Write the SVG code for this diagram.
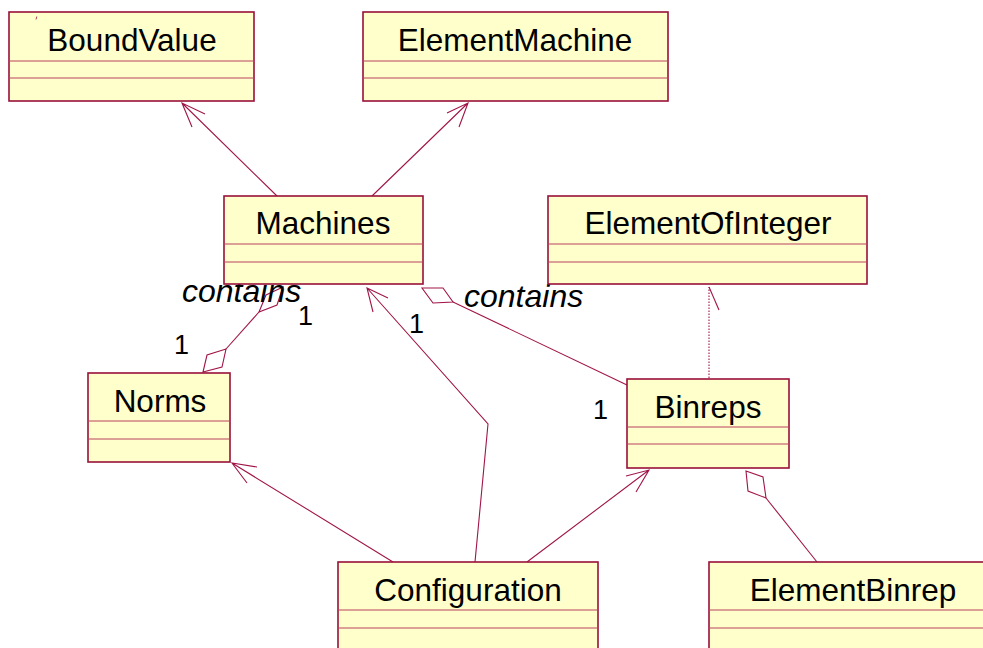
<svg xmlns="http://www.w3.org/2000/svg" width="983" height="648" viewBox="0 0 983 648">
  <style>
    .box { fill: #FFFFCC; stroke: #99103A; stroke-width: 1.6; }
    .sep { stroke: #B8405E; stroke-width: 1; fill: none; }
    .name { font-family: "Liberation Sans", Arial, sans-serif; font-size: 31.5px; fill: #000; text-anchor: middle; }
    .edge { stroke: #A01548; stroke-width: 1.1; fill: none; }
    .dia { stroke: #A01548; stroke-width: 1.1; fill: #FFFFFF; }
    .role { font-family: "Liberation Sans", Arial, sans-serif; font-size: 32px; font-style: italic; fill: #000; }
    .mult { font-family: "Liberation Sans", Arial, sans-serif; font-size: 27px; fill: #000; }
  </style>

  <rect width="983" height="648" fill="#FFFFFF"/>

  <!-- connectors -->
  <g id="connectors">
    <!-- Machines to BoundValue -->
    <path class="edge" d="M277,196 L182,103 M205,114 L182,103 L192,127"/>
    <!-- Machines to ElementMachine -->
    <path class="edge" d="M372,196 L468,103 M447,113 L468,103 L459,127"/>
    <!-- Norms / Machines aggregation -->
    <path class="edge" d="M226,349 L259,312"/>
    <polygon class="dia" points="203,372 207,355 226,349 222,367"/>
    <polygon class="dia" points="259,312 266,295 283,287 277,305"/>
    <!-- Machines / Binreps aggregation -->
    <path class="edge" d="M453,302 L627,385"/>
    <polygon class="dia" points="422,288 443,288 453,302 433,303"/>
    <!-- Configuration to Machines -->
    <path class="edge" d="M475,562 L488,424 L367,288 M388,298 L367,288 L373,312"/>
    <!-- Configuration to Norms -->
    <path class="edge" d="M393,562 L232,463 M257,467 L232,463 L247,483"/>
    <!-- Configuration to Binreps -->
    <path class="edge" d="M527,562 L649,470 M626,476 L649,470 L636,492"/>
    <!-- Binreps to ElementOfInteger (dependency) -->
    <path class="edge" d="M709,378 L709,287" stroke-dasharray="1.5,1.5"/>
    <path class="edge" d="M709,287 L719,310"/>
    <!-- ElementBinrep / Binreps aggregation -->
    <path class="edge" d="M766,498 L817,562"/>
    <polygon class="dia" points="746,471 763,477 766,498 748,491"/>

    <!-- association labels -->
    <text class="role" x="182" y="302">contains</text>
    <text class="role" x="464" y="307">contains</text>
    <text class="mult" x="174" y="354">1</text>
    <text class="mult" x="298" y="325">1</text>
    <text class="mult" x="409" y="333">1</text>
    <text class="mult" x="593" y="419">1</text>
  </g>

  <g id="BoundValue">
    <rect class="box" x="9" y="12" width="245" height="89"/>
    <line class="sep" x1="9" y1="61" x2="254" y2="61"/>
    <line class="sep" x1="9" y1="78" x2="254" y2="78"/>
    <line class="sep" x1="36.8" y1="16.5" x2="36" y2="19.5"/>
    <text class="name" x="132" y="51">BoundValue</text>
  </g>

  <g id="ElementMachine">
    <rect class="box" x="363" y="12" width="305" height="89"/>
    <line class="sep" x1="363" y1="61" x2="668" y2="61"/>
    <line class="sep" x1="363" y1="78" x2="668" y2="78"/>
    <text class="name" x="515" y="51">ElementMachine</text>
  </g>

  <g id="Machines">
    <rect class="box" x="224" y="196" width="199" height="88"/>
    <line class="sep" x1="224" y1="244" x2="423" y2="244"/>
    <line class="sep" x1="224" y1="262" x2="423" y2="262"/>
    <text class="name" x="323" y="234">Machines</text>
  </g>

  <g id="ElementOfInteger">
    <rect class="box" x="548" y="196" width="319" height="88"/>
    <line class="sep" x1="548" y1="244" x2="867" y2="244"/>
    <line class="sep" x1="548" y1="262" x2="867" y2="262"/>
    <text class="name" x="708" y="234">ElementOfInteger</text>
  </g>

  <g id="Norms">
    <rect class="box" x="88" y="373" width="142" height="89"/>
    <line class="sep" x1="88" y1="421" x2="230" y2="421"/>
    <line class="sep" x1="88" y1="439" x2="230" y2="439"/>
    <text class="name" x="160" y="412">Norms</text>
  </g>

  <g id="Binreps">
    <rect class="box" x="627" y="379" width="162" height="89"/>
    <line class="sep" x1="627" y1="427" x2="789" y2="427"/>
    <line class="sep" x1="627" y1="444" x2="789" y2="444"/>
    <text class="name" x="708" y="418">Binreps</text>
  </g>

  <g id="Configuration">
    <rect class="box" x="338" y="562" width="260" height="100"/>
    <line class="sep" x1="338" y1="610" x2="598" y2="610"/>
    <line class="sep" x1="338" y1="628" x2="598" y2="628"/>
    <text class="name" x="468" y="601">Configuration</text>
  </g>

  <g id="ElementBinrep">
    <rect class="box" x="709" y="562" width="288" height="100"/>
    <line class="sep" x1="709" y1="610" x2="997" y2="610"/>
    <line class="sep" x1="709" y1="628" x2="997" y2="628"/>
    <text class="name" x="853" y="601">ElementBinrep</text>
  </g>
</svg>
